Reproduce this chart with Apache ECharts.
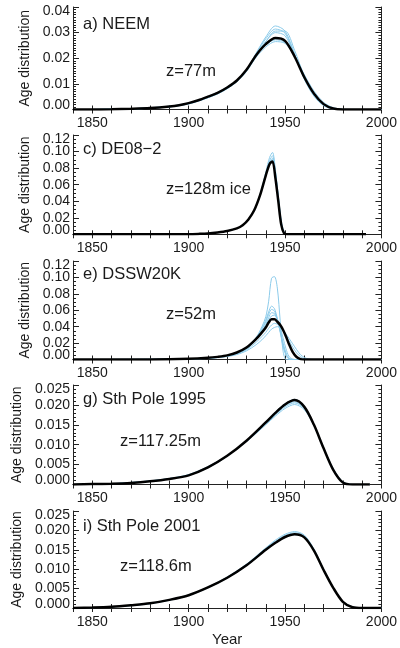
<!DOCTYPE html>
<html>
<head>
<meta charset="utf-8">
<script src="https://cdn.jsdelivr.net/npm/echarts@6/dist/echarts.min.js"></script>
<style>
  html, body { margin: 0; padding: 0; background: #fff; }
  #chart { width: 400px; height: 648px; }
</style>
</head>
<body>
<div id="chart"></div>
<script>
// year ticks shown on every panel
const xTickLabels = [1850, 1900, 1950, 2000];

// a) NEEM, z=77m
const neemYears = [1840, 1850, 1860, 1870, 1880, 1890, 1895, 1900, 1905, 1910, 1915, 1920, 1925, 1930, 1935, 1940, 1945, 1950, 1955, 1960, 1965, 1970, 1975, 1980, 1990, 2000];
const neemModel = [0, 0, 0.0001, 0.0003, 0.0006, 0.0012, 0.0017, 0.0025, 0.0036, 0.005, 0.0065, 0.0086, 0.0113, 0.0155, 0.0212, 0.0255, 0.0279, 0.0268, 0.0206, 0.0126, 0.0062, 0.0021, 0.0004, 0, 0, 0];
const neemRuns = [
  [0, 0, 0.0001, 0.0002, 0.0005, 0.001, 0.0015, 0.0022, 0.0033, 0.0046, 0.0061, 0.0082, 0.011, 0.0153, 0.022, 0.0283, 0.0326, 0.0306, 0.0216, 0.0118, 0.0052, 0.0015, 0.0002, 0, 0, 0],
  [0, 0, 0.0001, 0.0002, 0.0005, 0.0011, 0.0016, 0.0023, 0.0034, 0.0047, 0.0062, 0.0083, 0.0111, 0.0154, 0.0218, 0.0276, 0.0314, 0.0298, 0.0214, 0.0121, 0.0056, 0.0017, 0.0003, 0, 0, 0],
  [0, 0, 0.0001, 0.0003, 0.0006, 0.0011, 0.0016, 0.0024, 0.0035, 0.0049, 0.0064, 0.0085, 0.0112, 0.0154, 0.0214, 0.0266, 0.03, 0.0288, 0.0211, 0.0123, 0.0058, 0.0019, 0.0003, 0, 0, 0],
  [0, 0, 0.0001, 0.0003, 0.0006, 0.0012, 0.0017, 0.0025, 0.0036, 0.005, 0.0066, 0.0087, 0.0114, 0.0156, 0.021, 0.0252, 0.0272, 0.0262, 0.0208, 0.0131, 0.0066, 0.0024, 0.0005, 0, 0, 0],
  [0, 0, 0.0001, 0.0003, 0.0007, 0.0013, 0.0018, 0.0026, 0.0037, 0.0051, 0.0067, 0.0088, 0.0114, 0.0153, 0.0204, 0.0244, 0.0265, 0.0258, 0.021, 0.0136, 0.0072, 0.0028, 0.0007, 0.0001, 0, 0],
  [0, 0, 0.0001, 0.0002, 0.0005, 0.001, 0.0015, 0.0022, 0.0033, 0.0046, 0.0061, 0.0081, 0.0108, 0.0148, 0.0206, 0.0264, 0.0306, 0.0306, 0.023, 0.013, 0.0058, 0.0018, 0.0003, 0, 0, 0]
];

// c) DE08-2, z=128m ice
const de08Years = [1840, 1880, 1900, 1905, 1910, 1915, 1920, 1925, 1928, 1931, 1934, 1937, 1940, 1942, 1943.5, 1945, 1946.5, 1948, 1949.5, 1951, 1992];
const de08Model = [0, 0, 0.0002, 0.0005, 0.001, 0.0022, 0.004, 0.0072, 0.011, 0.018, 0.029, 0.047, 0.071, 0.085, 0.088, 0.068, 0.04, 0.012, 0.001, 0, 0];
const de08Runs = [
  [0, 0, 0.0002, 0.0005, 0.001, 0.0022, 0.004, 0.0072, 0.011, 0.018, 0.029, 0.048, 0.075, 0.093, 0.099, 0.078, 0.046, 0.015, 0.002, 0, 0],
  [0, 0, 0.0002, 0.0005, 0.001, 0.0021, 0.0039, 0.0071, 0.011, 0.018, 0.029, 0.047, 0.073, 0.089, 0.095, 0.075, 0.044, 0.014, 0.0015, 0, 0],
  [0, 0, 0.0002, 0.0005, 0.001, 0.0022, 0.004, 0.0072, 0.011, 0.018, 0.029, 0.047, 0.072, 0.087, 0.092, 0.072, 0.043, 0.014, 0.0015, 0, 0],
  [0, 0, 0.0002, 0.0005, 0.001, 0.0022, 0.004, 0.0072, 0.011, 0.018, 0.029, 0.047, 0.071, 0.086, 0.09, 0.073, 0.047, 0.017, 0.003, 0, 0]
];

// e) DSSW20K, z=52m
const dsswYears = [1840, 1880, 1900, 1910, 1915, 1920, 1925, 1930, 1935, 1938, 1940, 1941.5, 1943, 1944.5, 1946, 1947.5, 1949, 1950.5, 1952, 1954, 1956, 1958, 1960, 1962, 1965, 2000];
const dsswModel = [0, 0.0001, 0.0008, 0.002, 0.0032, 0.005, 0.0085, 0.0145, 0.025, 0.033, 0.039, 0.045, 0.049, 0.049, 0.046, 0.042, 0.036, 0.028, 0.019, 0.009, 0.003, 0.0005, 0, 0, 0, 0];
const dsswRuns = [
  [0, 0.0001, 0.0008, 0.002, 0.0032, 0.005, 0.0085, 0.015, 0.027, 0.04, 0.052, 0.071, 0.099, 0.101, 0.087, 0.047, 0.01, 0, 0, 0, 0, 0, 0, 0, 0, 0],
  [0, 0.0001, 0.0007, 0.0018, 0.003, 0.0047, 0.008, 0.014, 0.026, 0.038, 0.048, 0.058, 0.065, 0.062, 0.05, 0.033, 0.016, 0.005, 0.0005, 0, 0, 0, 0, 0, 0, 0],
  [0, 0.0001, 0.0007, 0.0018, 0.003, 0.0047, 0.008, 0.014, 0.026, 0.037, 0.046, 0.055, 0.061, 0.059, 0.049, 0.034, 0.018, 0.006, 0.001, 0, 0, 0, 0, 0, 0, 0],
  [0, 0.0001, 0.0007, 0.0018, 0.003, 0.0046, 0.0078, 0.0135, 0.025, 0.035, 0.043, 0.051, 0.057, 0.056, 0.048, 0.035, 0.02, 0.008, 0.002, 0, 0, 0, 0, 0, 0, 0],
  [0, 0.0001, 0.0006, 0.0016, 0.0027, 0.0043, 0.0074, 0.013, 0.024, 0.033, 0.041, 0.048, 0.053, 0.054, 0.049, 0.039, 0.026, 0.013, 0.004, 0.0005, 0, 0, 0, 0, 0, 0],
  [0, 0.0001, 0.0006, 0.0015, 0.0025, 0.004, 0.0068, 0.012, 0.021, 0.028, 0.033, 0.038, 0.042, 0.044, 0.043, 0.04, 0.035, 0.029, 0.023, 0.015, 0.008, 0.0035, 0.001, 0.0002, 0, 0],
  [0, 0.0001, 0.0005, 0.0013, 0.0022, 0.0036, 0.006, 0.0105, 0.018, 0.024, 0.029, 0.033, 0.037, 0.039, 0.04, 0.039, 0.036, 0.031, 0.026, 0.019, 0.012, 0.006, 0.0025, 0.0007, 0, 0]
];

// g) Sth Pole 1995, z=117.25m
const sp95Years = [1840, 1850, 1860, 1870, 1880, 1890, 1900, 1910, 1920, 1930, 1940, 1945, 1950, 1955, 1960, 1965, 1970, 1975, 1980, 1985, 1994];
const sp95Model = [0, 0.0001, 0.0002, 0.0004, 0.0008, 0.0014, 0.0023, 0.0043, 0.0072, 0.011, 0.0156, 0.018, 0.0201, 0.0212, 0.0195, 0.015, 0.0091, 0.0037, 0.0005, 0, 0];
const sp95Runs = [
  [0, 0.0001, 0.0002, 0.0005, 0.0009, 0.0015, 0.0024, 0.0044, 0.0072, 0.0108, 0.0152, 0.0175, 0.0195, 0.0205, 0.0191, 0.0149, 0.0092, 0.0039, 0.0006, 0, 0],
  [0, 0.0001, 0.0002, 0.0005, 0.0009, 0.0015, 0.0025, 0.0045, 0.0073, 0.0108, 0.015, 0.0172, 0.0191, 0.0201, 0.0188, 0.0148, 0.0093, 0.004, 0.0007, 0, 0],
  [0, 0.0001, 0.0002, 0.0004, 0.0008, 0.0014, 0.0024, 0.0044, 0.0072, 0.0109, 0.0154, 0.0177, 0.0198, 0.0208, 0.0193, 0.015, 0.0092, 0.0038, 0.0006, 0, 0],
  [0, 0.0001, 0.0002, 0.0004, 0.0008, 0.0014, 0.0023, 0.0042, 0.0071, 0.011, 0.0157, 0.0182, 0.0203, 0.0214, 0.0197, 0.0151, 0.009, 0.0036, 0.0005, 0, 0]
];

// i) Sth Pole 2001, z=118.6m
const sp01Years = [1840, 1850, 1860, 1870, 1880, 1890, 1900, 1910, 1920, 1930, 1940, 1945, 1950, 1955, 1960, 1965, 1970, 1975, 1980, 1985, 1990, 2000];
const sp01Model = [0, 0.0001, 0.0003, 0.0007, 0.0012, 0.0021, 0.0033, 0.0053, 0.0078, 0.011, 0.015, 0.0168, 0.0183, 0.019, 0.0182, 0.0148, 0.0098, 0.0052, 0.0016, 0.0002, 0, 0];
const sp01Runs = [
  [0, 0.0001, 0.0003, 0.0007, 0.0012, 0.0021, 0.0034, 0.0054, 0.008, 0.0113, 0.0155, 0.0175, 0.019, 0.0197, 0.0188, 0.0152, 0.01, 0.0053, 0.0017, 0.0003, 0, 0],
  [0, 0.0001, 0.0003, 0.0007, 0.0012, 0.0021, 0.0033, 0.0053, 0.0079, 0.0112, 0.0153, 0.0172, 0.0187, 0.0194, 0.0185, 0.015, 0.0099, 0.0052, 0.0016, 0.0002, 0, 0],
  [0, 0.0001, 0.0003, 0.0006, 0.0011, 0.002, 0.0032, 0.0052, 0.0077, 0.0109, 0.0149, 0.0167, 0.0182, 0.0189, 0.0183, 0.0149, 0.0099, 0.0053, 0.0017, 0.0003, 0, 0]
];

const panels = [
  { title: "a) NEEM", depth: "z=77m", years: neemYears, model: neemModel, runs: neemRuns,
    yMax: 0.04, yStep: 0.01, minor: 10, digits: 2, top: 7, height: 102.5, titleY: 25, depthX: 166, depthY: 72, nameGap: 41 },
  { title: "c) DE08\u22122", depth: "z=128m ice", years: de08Years, model: de08Model, runs: de08Runs,
    yMax: 0.12, yStep: 0.02, minor: 4, digits: 2, top: 135, height: 99.3, titleY: 150, depthX: 166, depthY: 190, nameGap: 41 },
  { title: "e) DSSW20K", depth: "z=52m", years: dsswYears, model: dsswModel, runs: dsswRuns,
    yMax: 0.12, yStep: 0.02, minor: 4, digits: 2, top: 261, height: 98.5, titleY: 275, depthX: 166, depthY: 315, nameGap: 41 },
  { title: "g) Sth Pole 1995", depth: "z=117.25m", years: sp95Years, model: sp95Model, runs: sp95Runs,
    yMax: 0.025, yStep: 0.005, minor: 5, digits: 3, top: 385, height: 99.5, titleY: 400, depthX: 120, depthY: 442, nameGap: 48 },
  { title: "i) Sth Pole 2001", depth: "z=118.6m", years: sp01Years, model: sp01Model, runs: sp01Runs,
    yMax: 0.025, yStep: 0.005, minor: 5, digits: 3, top: 511, height: 100, titleY: 527, depthX: 120, depthY: 567, nameGap: 48 }
];

const FONT = "Liberation Sans";
const INK = "#1a1a1a";
const FRAME = "#222";
const RUN_COLOR = "#8ccbea";
const LEFT = 73;
const RIGHT = 16.5;

const chart = echarts.init(document.getElementById("chart"));

const grids = [];
const xAxes = [];
const yAxes = [];
const series = [];
const texts = [];

function isEnd(v, p) {
  return Math.abs(v) < 1e-9 || Math.abs(v - p.yMax) < 1e-9;
}

panels.forEach((p, i) => {
  const last = i === panels.length - 1;
  grids.push({ left: LEFT, right: RIGHT, top: p.top, height: p.height, containLabel: false });

  const xBase = {
    gridIndex: i, type: "value", min: 1840, max: 2000, interval: 10,
    axisLine: { show: true, lineStyle: { color: FRAME, width: 1 } },
    axisTick: { show: true, inside: true, length: 4, lineStyle: { color: FRAME } },
    splitLine: { show: false }
  };
  xAxes.push(Object.assign({}, xBase, {
    position: "bottom",
    axisLabel: {
      show: true, margin: 7, fontFamily: FONT, fontSize: 14, color: INK,
      showMinLabel: true, showMaxLabel: true,
      formatter: v => (xTickLabels.indexOf(v) >= 0 ? String(v) : "")
    },
    name: last ? "Year" : "",
    nameLocation: "middle", nameGap: 24,
    nameTextStyle: { fontFamily: FONT, fontSize: 15, color: INK }
  }));
  xAxes.push(Object.assign({}, xBase, { position: "top", axisLabel: { show: false } }));

  const yBase = {
    gridIndex: i, type: "value", min: 0, max: p.yMax, interval: p.yStep,
    axisLine: { show: true, lineStyle: { color: FRAME, width: 1 } },
    axisTick: { show: true, inside: true, length: 6, lineStyle: { color: FRAME } },
    minorTick: { show: true, splitNumber: p.minor, length: 3, lineStyle: { color: FRAME } },
    splitLine: { show: false }
  };
  const labelBase = { show: true, margin: 3, fontFamily: FONT, fontSize: 14, color: INK };
  // main left axis: inner tick labels only
  yAxes.push(Object.assign({}, yBase, {
    position: "left",
    axisLabel: Object.assign({}, labelBase, {
      showMinLabel: false, showMaxLabel: false,
      formatter: v => (isEnd(v, p) ? "" : v.toFixed(p.digits))
    }),
    name: "Age distribution", nameLocation: "middle", nameGap: p.nameGap,
    nameTextStyle: { fontFamily: FONT, fontSize: 14, color: INK }
  }));
  // end labels nudged inside the frame
  yAxes.push({
    gridIndex: i, type: "value", min: 0, max: p.yMax, interval: p.yStep, position: "left",
    axisLine: { show: false }, axisTick: { show: false }, splitLine: { show: false },
    axisLabel: Object.assign({}, labelBase, {
      lineHeight: 8, showMinLabel: true, showMaxLabel: true,
      verticalAlignMinLabel: "bottom", verticalAlignMaxLabel: "top",
      formatter: v => (isEnd(v, p) ? v.toFixed(p.digits) : "")
    })
  });
  yAxes.push(Object.assign({}, yBase, { position: "right", axisLabel: { show: false } }));

  const xi = i * 2;
  const yi = i * 3;
  p.runs.forEach(run => {
    series.push({
      type: "line", xAxisIndex: xi, yAxisIndex: yi, showSymbol: false, smooth: 0.3,
      silent: true, animation: false,
      lineStyle: { color: RUN_COLOR, width: 1 },
      data: p.years.map((y, k) => [y, run[k]])
    });
  });
  series.push({
    type: "line", xAxisIndex: xi, yAxisIndex: yi, showSymbol: false, smooth: 0.3,
    silent: true, animation: false, z: 3,
    lineStyle: { color: "#000", width: 2.5 },
    data: p.years.map((y, k) => [y, p.model[k]])
  });

  texts.push({ type: "text", left: LEFT + 10, top: p.titleY - 9,
    style: { text: p.title, font: "16.5px " + FONT, fill: INK } });
  texts.push({ type: "text", left: p.depthX, top: p.depthY - 9,
    style: { text: p.depth, font: "16.5px " + FONT, fill: INK } });
});

chart.setOption({
  animation: false,
  grid: grids,
  xAxis: xAxes,
  yAxis: yAxes,
  series: series,
  graphic: texts
});
</script>
</body>
</html>
